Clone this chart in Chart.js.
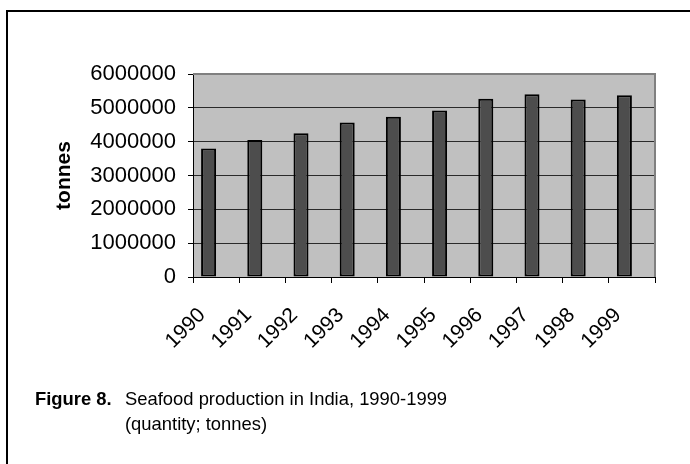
<!DOCTYPE html>
<html><head><meta charset="utf-8">
<script src="https://cdn.jsdelivr.net/npm/chart.js@4.4.1/dist/chart.umd.min.js"></script>
<style>
html,body{margin:0;padding:0;background:#fff;width:690px;height:464px;overflow:hidden;}
#frame{position:absolute;left:6px;top:10px;width:720px;height:480px;border-left:2px solid #000;border-top:2px solid #000;}
#wrap{position:absolute;left:0;top:0;width:690px;height:464px;}
.cap{position:absolute;font-family:"Liberation Sans",Arial,sans-serif;font-size:18.4px;color:#000;white-space:nowrap;line-height:22px;}
</style></head><body>
<div id="frame"></div>
<div id="wrap"><canvas id="c" width="690" height="464"></canvas></div>
<div class="cap" style="left:35px;top:388px;"><b>Figure 8.</b></div>
<div class="cap" style="left:125px;top:388px;">Seafood production in India, 1990-1999</div>
<div class="cap" style="left:125px;top:413px;">(quantity; tonnes)</div>
<script>
const categories = ['1990','1991','1992','1993','1994','1995','1996','1997','1998','1999'];
const production = [3800000, 4050000, 4250000, 4570000, 4740000, 4920000, 5270000, 5400000, 5250000, 5370000];
const emptySeries = [];
const yMin = 0, yMax = 6000000, yStep = 1000000;
const FONT = '"Liberation Sans", Arial, sans-serif';

const plotFrame = {
  id: 'plotFrame',
  beforeDraw(chart) {
    const {ctx, chartArea: a} = chart;
    ctx.save();
    ctx.fillStyle = '#c0c0c0';
    ctx.fillRect(a.left, a.top, a.right - a.left, a.bottom - a.top);
    ctx.restore();
  },
  afterDraw(chart) {
    const {ctx, chartArea: a} = chart;
    ctx.save();
    ctx.strokeStyle = '#808080';
    ctx.lineWidth = 2;
    ctx.beginPath();
    ctx.moveTo(a.left, a.top);
    ctx.lineTo(a.right, a.top);
    ctx.lineTo(a.right, a.bottom);
    ctx.stroke();
    ctx.restore();
  }
};

new Chart(document.getElementById('c'), {
  type: 'bar',
  data: {
    labels: categories,
    datasets: [
      { data: production, backgroundColor: '#4d4d4d', borderColor: '#000', borderWidth: 2, borderSkipped: false,
        categoryPercentage: 0.65, barPercentage: 1.0 },
      { data: emptySeries, backgroundColor: '#4d4d4d', categoryPercentage: 0.65, barPercentage: 1.0 }
    ]
  },
  options: {
    responsive: false,
    animation: false,
    layout: { padding: { left: 0, top: 74, right: 35, bottom: 107 } },
    plugins: { legend: { display: false }, tooltip: { enabled: false } },
    scales: {
      x: {
        grid: { display: true, drawOnChartArea: false, drawTicks: true, tickLength: 6, color: '#000', offset: true },
        border: { display: true, color: '#000', width: 1 },
        ticks: { font: { family: FONT, size: 21 }, color: '#000', maxRotation: 45, minRotation: 45, autoSkip: false, padding: 20, labelOffset: -14 },
        afterFit(s) { s.height = 80; }
      },
      y: {
        min: yMin, max: yMax,
        ticks: { stepSize: yStep, font: { family: FONT, size: 22 }, color: '#000', padding: 12, callback: v => String(v) },
        grid: { color: c => (c.tick && c.tick.value === yMax) ? '#808080' : '#2a2a2a', lineWidth: 1, tickLength: 5, tickColor: '#000' },
        border: { display: true, color: '#000', width: 1 },
        title: { display: true, text: 'tonnes', font: { family: FONT, size: 21, weight: 'bold' }, color: '#000', padding: { top: 52, bottom: 0 } },
        afterFit(s) { s.width = 193; }
      }
    }
  },
  plugins: [plotFrame]
});
</script>
</body></html>
